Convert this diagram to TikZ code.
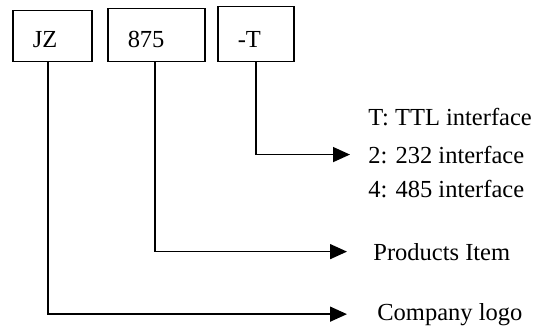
\documentclass[tikz,border=0pt]{standalone}
\usepackage{fontspec}
\setmainfont{Liberation Serif}
\usetikzlibrary{arrows.meta}

\begin{document}
\begin{tikzpicture}[x=0.5pt,y=-0.5pt,
    every node/.style={font=\fontsize{12.25pt}{14pt}\selectfont},
    box/.style={draw,line width=0.75pt,inner xsep=10pt,inner ysep=0pt,text depth=7pt,align=left,anchor=south west},
    lbl/.style={inner sep=0pt,anchor=base west},
    link/.style={line width=0.75pt,-{Triangle[length=8.5pt,width=7.5pt]}}]
            \path[use as bounding box] (0,0) rectangle (542,328);

            \node[box,text width=19.5pt,text height=18.5pt] (jz) at (12,62) {JZ};
            \node[box,text width=28.5pt,text height=19.5pt] (num) at (107,62) {875};
            \node[box,text width=18pt,text height=20.5pt] (suf) at (217,62) {-T};

            \foreach \n/\y/\t in {ttl/125/T: TTL interface, rs232/163/2: 232 interface, rs485/197/4: 485 interface} {
                \node[lbl] (\n) at (368,\y) {\t};
            }
            \node[lbl] (item) at (373,260) {Products Item};
            \node[lbl] (logo) at (377,320) {Company logo};

            \draw[link] (suf.south) |- ([xshift=-9pt]rs232.west);
            \draw[link] ([xshift=-0.75pt]num.south) |- ([xshift=-13pt]item.west);
            \draw[link] ([xshift=-2.25pt]jz.south) |- ([xshift=-15pt]logo.west);
        \end{tikzpicture}
\end{document}
